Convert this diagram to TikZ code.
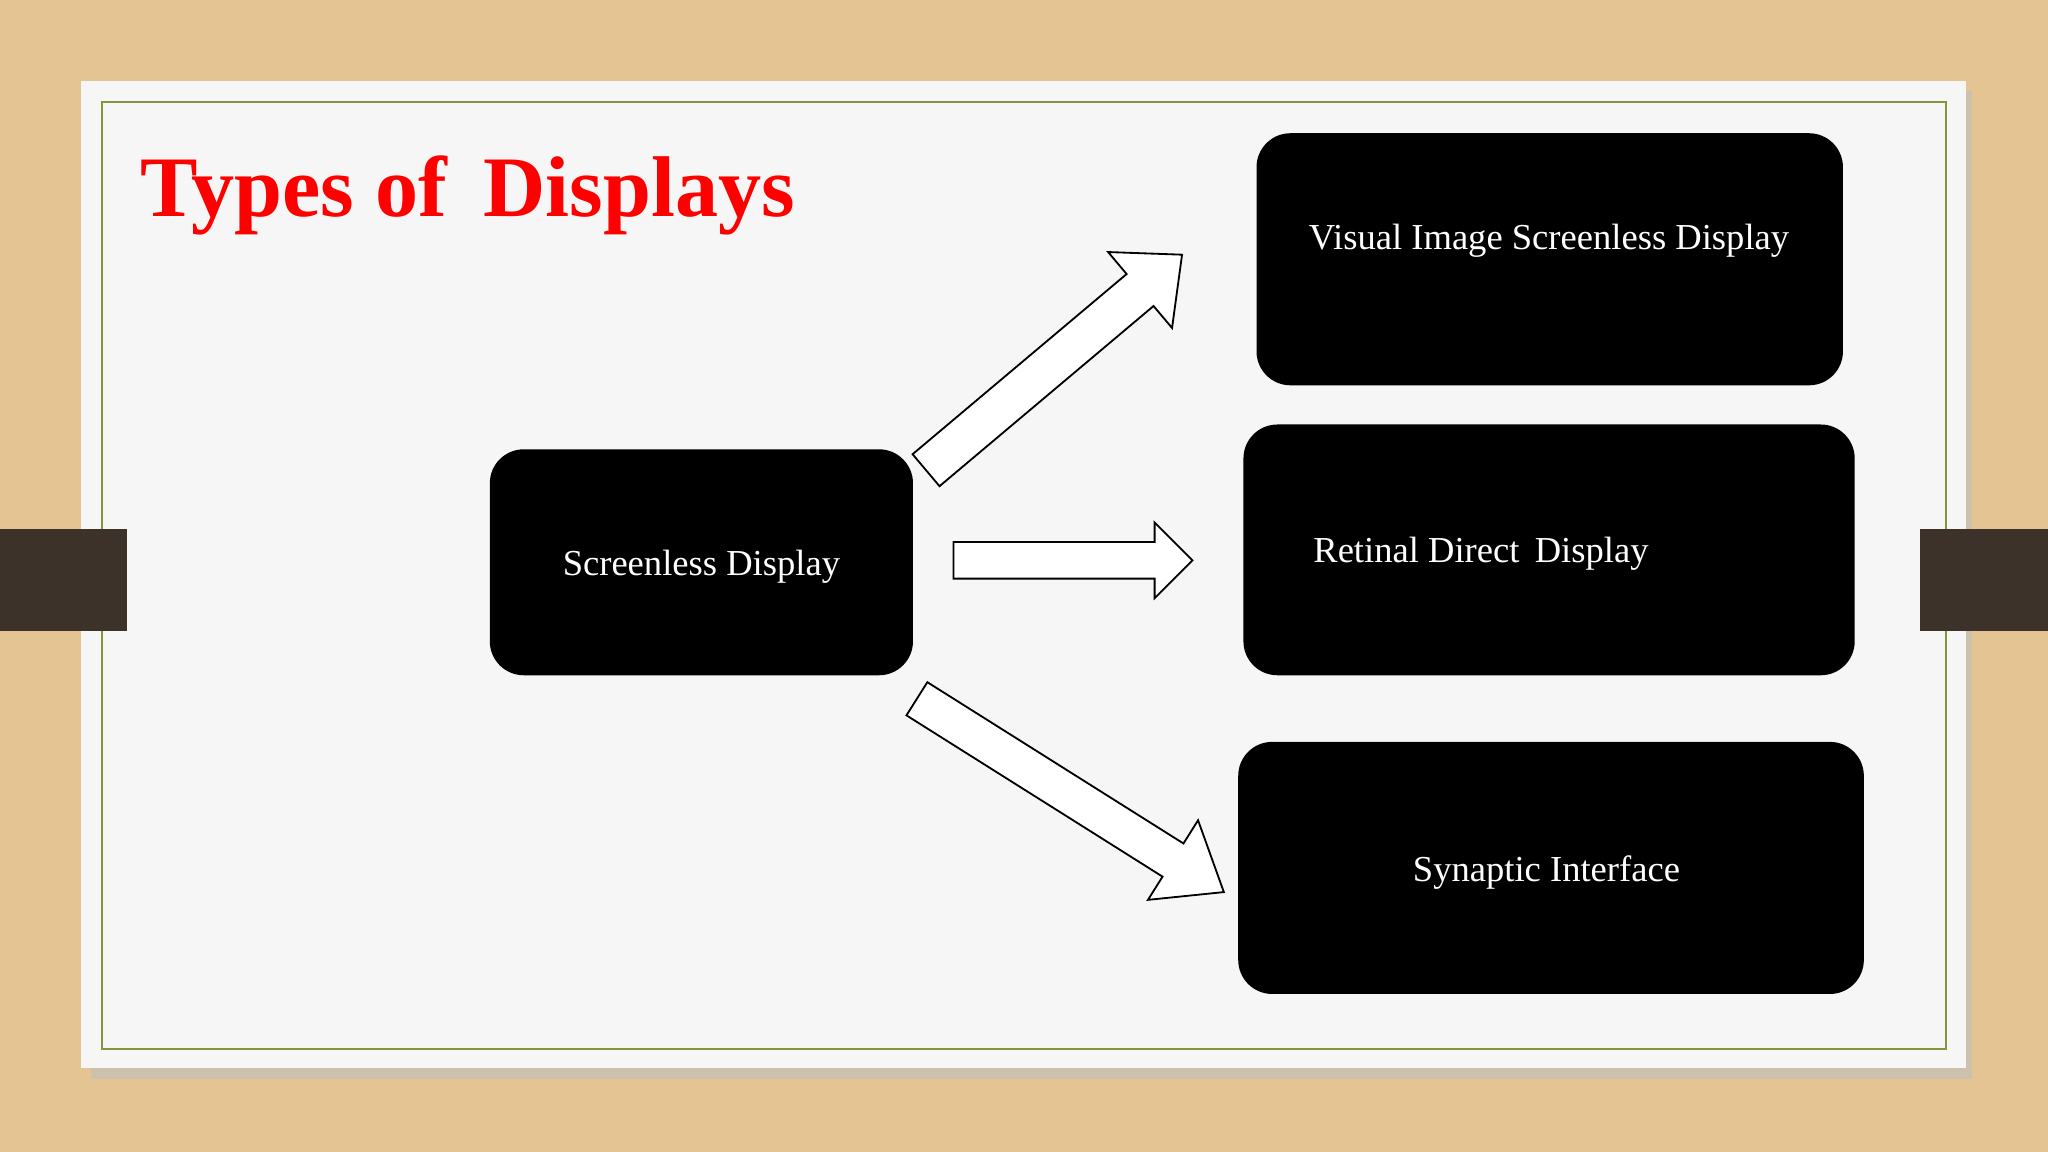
\documentclass[tikz,border=0pt]{standalone}
\usepackage{fontspec}
\setmainfont{Liberation Serif}
\usetikzlibrary{calc}
\definecolor{wood}{RGB}{228,196,146}
\definecolor{slide}{RGB}{246,246,246}
\definecolor{frameg}{RGB}{130,150,60}
\definecolor{tab}{RGB}{60,50,42}
\tikzset{
  box/.style={fill=black,rounded corners=26pt,text=white,font=\fontsize{28}{32}\selectfont},
  lbl/.style={text=white,font=\fontsize{28}{32}\selectfont},
  blk/.style={draw=black,fill=white,line width=1.4pt,line join=miter}
}
\newcommand{\blockarrow}[5]{%
  \coordinate (N) at ($(#2)!#5!(#1)$);
  \draw[blk] ($(#1)!#3!90:(#2)$) -- ($(N)!#3!-90:(#1)$) -- ($(N)!#4!-90:(#1)$) -- (#2)
    -- ($(N)!#4!90:(#1)$) -- ($(N)!#3!90:(#1)$) -- ($(#1)!#3!-90:(#2)$) -- cycle;}
\begin{document}
\begin{tikzpicture}[x=1pt,y=-1pt]
\useasboundingbox (0,0) rectangle (1568,882);
\fill[wood] (0,0) rectangle (1568,882);
\fill[black!25,opacity=0.6] (70,70) rectangle (1510,826);
\fill[slide] (62,62) rectangle (1505,818);
\draw[frameg,line width=1.5pt] (78,78) rectangle (1490,803);
\fill[tab] (0,405) rectangle (97,483);
\fill[tab] (1470,405) rectangle (1568,483);
\node[anchor=west,text=red,font=\bfseries\fontsize{66}{76}\selectfont] (title) at (104,150) {Types of\, Displays};
\node[box,minimum width=324pt,minimum height=173pt] (sd) at (537,430.5) {};
\node[lbl] (sdt) at (537,434) {Screenless Display};
\node[box,minimum width=449pt,minimum height=193pt] (vi) at (1186.5,198.5) {};
\node[lbl] (vit) at (1186,184) {Visual Image Screenless Display};
\node[box,minimum width=468pt,minimum height=192pt] (rd) at (1186,421) {};
\node[lbl,anchor=west] (rdt) at (1002,424) {Retinal Direct\, Display};
\node[box,minimum width=479pt,minimum height=193pt] (si) at (1187.5,664.5) {};
\node[lbl] (sit) at (1184,668) {Synaptic Interface};
\coordinate (a1) at (709,360); \coordinate (b1) at (905,195);
\coordinate (a2) at (730,429); \coordinate (b2) at (913,429);
\coordinate (a3) at (702,535); \coordinate (b3) at (937,683);
\blockarrow{a1}{b1}{16pt}{38pt}{42pt}
\blockarrow{a2}{b2}{14pt}{29pt}{29pt}
\blockarrow{a3}{b3}{15pt}{36pt}{46pt}
\end{tikzpicture}
\end{document}
